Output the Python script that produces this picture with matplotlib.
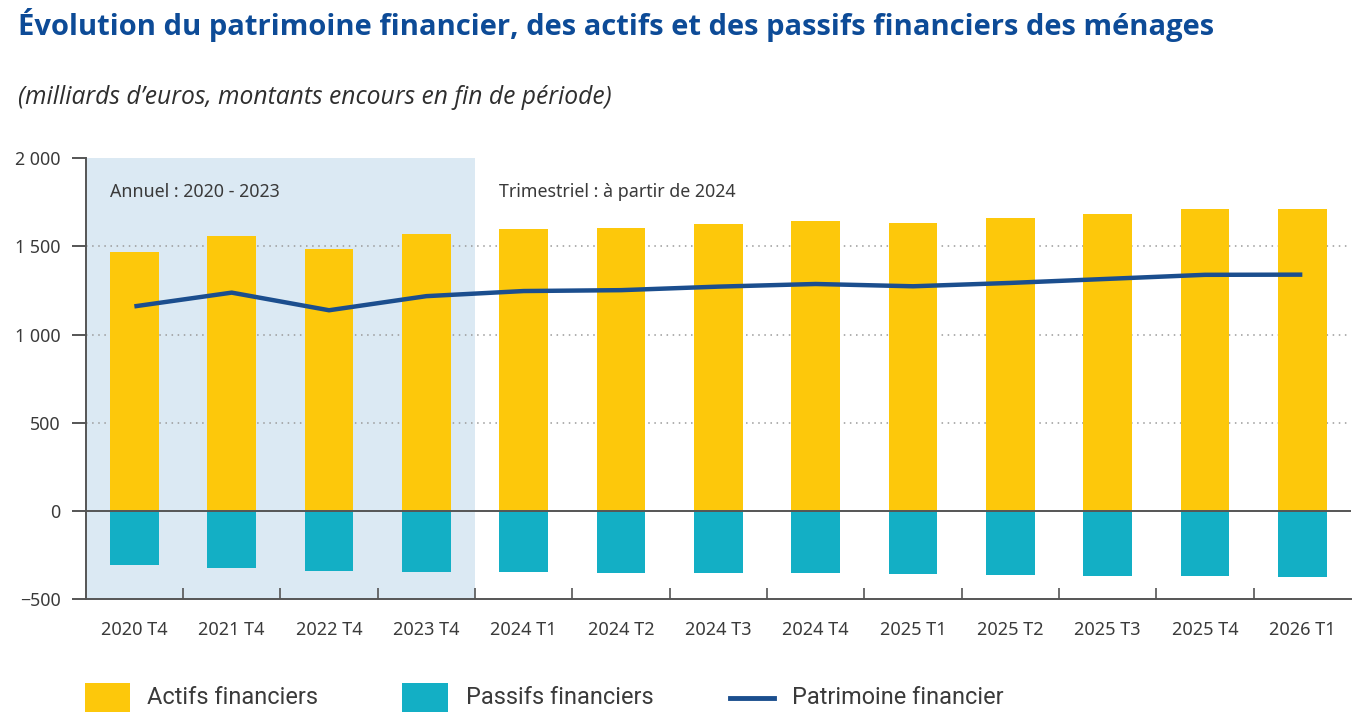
import matplotlib
matplotlib.use("Agg")
import matplotlib.pyplot as plt
from matplotlib.patches import Rectangle
from matplotlib.lines import Line2D
import numpy as np

categories = ["2020 T4", "2021 T4", "2022 T4", "2023 T4", "2024 T1", "2024 T2", "2024 T3",
              "2024 T4", "2025 T1", "2025 T2", "2025 T3", "2025 T4", "2026 T1"]
actifs = [1466, 1562, 1483, 1568, 1597, 1602, 1625, 1642, 1634, 1659, 1684, 1710, 1714]
passifs = [-307, -322, -341, -347, -347, -352, -352, -352, -360, -366, -367, -370, -373]
patrimoine = [1160, 1238, 1138, 1218, 1247, 1252, 1272, 1287, 1274, 1293, 1316, 1339, 1340]
yticks = [-500, 0, 500, 1000, 1500, 2000]
yticklabels = ["\u2212500", "0", "500", "1 000", "1 500", "2 000"]

YELLOW = "#fdc80b"
TEAL = "#13afc5"
LINE = "#1b4e8e"
SHADE = "#dbe9f3"
AXC = "#555555"
TXT = "#3a3a3a"
FONT = ["Noto Sans", "DejaVu Sans"]

W, H = 1357, 718
fig = plt.figure(figsize=(W / 100, H / 100), dpi=100)
fig.patch.set_facecolor("white")
renderer = fig.canvas.get_renderer()


def fit_width(t, target_px):
    bb = t.get_window_extent(renderer=renderer)
    t.set_fontsize(t.get_fontsize() * target_px / bb.width)
    return t.get_fontsize()


left, right = 85.7, 1351
top, bottom = 158.3, 599
ax = fig.add_axes([left / W, (H - bottom) / H, (right - left) / W, (bottom - top) / H])

x = np.arange(len(categories))
ax.axvspan(-0.5, 3.5, color=SHADE, zorder=0, lw=0)
for yv in [500, 1000, 1500]:
    ax.axhline(yv, color="#9a9a9a", lw=1.1, ls=(0, (1, 3)), zorder=1)
ax.bar(x, actifs, width=0.5, color=YELLOW, zorder=2)
ax.bar(x, passifs, width=0.5, color=TEAL, zorder=2)
ax.axhline(0, color=AXC, lw=1.4, zorder=3)
ax.plot(x, patrimoine, color=LINE, lw=3.2, zorder=4, solid_capstyle="butt")

ax.set_xlim(-0.5, len(categories) - 0.5)
ax.set_ylim(-500, 2000)
ax.set_facecolor("white")
for s in ["top", "right"]:
    ax.spines[s].set_visible(False)
for s in ["left", "bottom"]:
    ax.spines[s].set_color(AXC)
    ax.spines[s].set_linewidth(1.4)

ax.set_yticks(yticks)
ax.set_yticklabels(yticklabels, fontsize=12.8, color=TXT, family=FONT)
ax.tick_params(axis="y", direction="out", length=10, width=1.4, color=AXC, pad=8)

ax.set_xticks(x)
ax.set_xticklabels(categories, fontsize=13, color=TXT, family=FONT)
ax.tick_params(axis="x", which="major", length=0, pad=16)
ax.set_xticks(np.arange(0.5, len(categories) - 0.5, 1.0), minor=True)
ax.tick_params(axis="x", which="minor", direction="in", length=8, width=1.2, color=AXC)

band = (right - left) / len(categories)
t1 = ax.text((110 - left) / band - 0.5, 1810, "Annuel : 2020 - 2023", fontsize=12.5, color=TXT,
             va="center", ha="left", family=FONT, zorder=5)
fs_ann = fit_width(t1, 171)
ax.text((499 - left) / band - 0.5, 1810, "Trimestriel : \u00e0 partir de 2024", fontsize=fs_ann,
        color=TXT, va="center", ha="left", family=FONT, zorder=5)

tt = fig.text(18 / W, 1 - 25 / H,
              "\u00c9volution du patrimoine financier, des actifs et des passifs financiers des m\u00e9nages",
              fontsize=20, fontweight="bold", color="#0d4b97", va="center", ha="left",
              family=["Open Sans", "DejaVu Sans"])
fit_width(tt, 1194)
st = fig.text(18 / W, 1 - 97 / H, "(milliards d\u2019euros, montants encours en fin de p\u00e9riode)",
              fontsize=16, style="italic", color="#2e2e2e", va="center", ha="left",
              family=["Open Sans", "DejaVu Sans"])
fit_width(st, 594)

# Legend
legfont = ["Roboto", "DejaVu Sans"]
l3 = fig.text(792 / W, 1 - 697 / H, "Patrimoine financier", fontsize=17, color=TXT, va="center",
              ha="left", family=legfont)
fs_leg = fit_width(l3, 212)
fig.add_artist(Rectangle((85 / W, 1 - 712 / H), 45 / W, 29 / H, transform=fig.transFigure,
                         color=YELLOW, lw=0))
fig.text(147 / W, 1 - 697 / H, "Actifs financiers", fontsize=fs_leg, color=TXT, va="center",
         ha="left", family=legfont)
fig.add_artist(Rectangle((402 / W, 1 - 712 / H), 46 / W, 29 / H, transform=fig.transFigure,
                         color=TEAL, lw=0))
fig.text(466 / W, 1 - 697 / H, "Passifs financiers", fontsize=fs_leg, color=TXT, va="center",
         ha="left", family=legfont)
fig.add_artist(Line2D([730 / W, 774 / W], [1 - 698 / H, 1 - 698 / H], transform=fig.transFigure,
                      color=LINE, lw=3.5))

fig.savefig("out.png", dpi=100, facecolor="white")
